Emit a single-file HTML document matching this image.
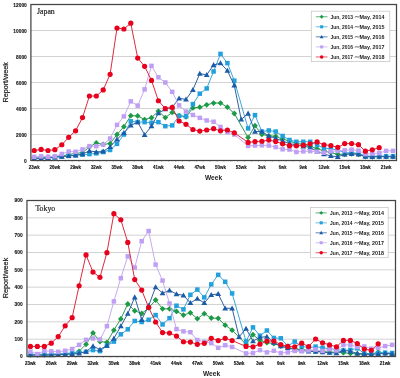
<!DOCTYPE html>
<html><head><meta charset="utf-8"><style>
html,body{margin:0;padding:0;background:#fff;}
body{width:400px;height:378px;overflow:hidden;}
svg{display:block;filter:blur(0.3px);}
text{font-family:"Liberation Sans",sans-serif;fill:#222;}
.yl{font-size:5.5px;text-anchor:end;font-weight:bold;fill:#111;stroke:#111;stroke-width:0.12px;}
.xl{font-size:5px;text-anchor:middle;font-weight:bold;fill:#111;stroke:#111;stroke-width:0.12px;}
.wt{font-size:6.6px;text-anchor:middle;font-weight:bold;}
.rt{font-size:6.5px;text-anchor:middle;fill:#1a1a1a;stroke:#1a1a1a;stroke-width:0.2px;}
.tt{font-family:"Liberation Serif",serif;font-size:7.8px;fill:#222;stroke:#222;stroke-width:0.18px;}
.lg{font-size:5.6px;fill:#1a1a1a;font-weight:bold;}
.td{font-size:7.2px;}
</style></head><body>
<svg width="400" height="378" viewBox="0 0 400 378">
<rect width="400" height="378" fill="#fff"/>
<line x1="30.9" x2="396.5" y1="134.50" y2="134.50" stroke="#cdcdcd" stroke-width="0.9"/>
<line x1="30.9" x2="396.5" y1="108.50" y2="108.50" stroke="#cdcdcd" stroke-width="0.9"/>
<line x1="30.9" x2="396.5" y1="82.50" y2="82.50" stroke="#cdcdcd" stroke-width="0.9"/>
<line x1="30.9" x2="396.5" y1="56.50" y2="56.50" stroke="#cdcdcd" stroke-width="0.9"/>
<line x1="30.9" x2="396.5" y1="30.50" y2="30.50" stroke="#cdcdcd" stroke-width="0.9"/>
<text x="26.8" y="162.70" class="yl" textLength="2.70" lengthAdjust="spacingAndGlyphs">0</text>
<text x="26.8" y="136.70" class="yl" textLength="10.80" lengthAdjust="spacingAndGlyphs">2000</text>
<text x="26.8" y="110.70" class="yl" textLength="10.80" lengthAdjust="spacingAndGlyphs">4000</text>
<text x="26.8" y="84.70" class="yl" textLength="10.80" lengthAdjust="spacingAndGlyphs">6000</text>
<text x="26.8" y="58.70" class="yl" textLength="10.80" lengthAdjust="spacingAndGlyphs">8000</text>
<text x="26.8" y="32.70" class="yl" textLength="13.50" lengthAdjust="spacingAndGlyphs">10000</text>
<text x="26.8" y="6.70" class="yl" textLength="13.50" lengthAdjust="spacingAndGlyphs">12000</text>
<text x="34.20" y="169.00" class="xl" textLength="10.8" lengthAdjust="spacingAndGlyphs">23wk</text>
<text x="54.90" y="169.00" class="xl" textLength="10.8" lengthAdjust="spacingAndGlyphs">26wk</text>
<text x="75.60" y="169.00" class="xl" textLength="10.8" lengthAdjust="spacingAndGlyphs">29wk</text>
<text x="96.30" y="169.00" class="xl" textLength="10.8" lengthAdjust="spacingAndGlyphs">32wk</text>
<text x="117.00" y="169.00" class="xl" textLength="10.8" lengthAdjust="spacingAndGlyphs">35wk</text>
<text x="137.70" y="169.00" class="xl" textLength="10.8" lengthAdjust="spacingAndGlyphs">38wk</text>
<text x="158.40" y="169.00" class="xl" textLength="10.8" lengthAdjust="spacingAndGlyphs">41wk</text>
<text x="179.10" y="169.00" class="xl" textLength="10.8" lengthAdjust="spacingAndGlyphs">44wk</text>
<text x="199.80" y="169.00" class="xl" textLength="10.8" lengthAdjust="spacingAndGlyphs">47wk</text>
<text x="220.50" y="169.00" class="xl" textLength="10.8" lengthAdjust="spacingAndGlyphs">50wk</text>
<text x="241.20" y="169.00" class="xl" textLength="10.8" lengthAdjust="spacingAndGlyphs">53wk</text>
<text x="261.90" y="169.00" class="xl" textLength="7.6" lengthAdjust="spacingAndGlyphs">3wk</text>
<text x="282.60" y="169.00" class="xl" textLength="7.6" lengthAdjust="spacingAndGlyphs">6wk</text>
<text x="303.30" y="169.00" class="xl" textLength="7.6" lengthAdjust="spacingAndGlyphs">9wk</text>
<text x="324.00" y="169.00" class="xl" textLength="10.8" lengthAdjust="spacingAndGlyphs">12wk</text>
<text x="344.70" y="169.00" class="xl" textLength="10.8" lengthAdjust="spacingAndGlyphs">15wk</text>
<text x="365.40" y="169.00" class="xl" textLength="10.8" lengthAdjust="spacingAndGlyphs">18wk</text>
<text x="386.10" y="169.00" class="xl" textLength="10.8" lengthAdjust="spacingAndGlyphs">21wk</text>
<text x="213.5" y="180.0" class="wt">Week</text>
<text transform="translate(8.0 82.3) rotate(-90)" class="rt" textLength="40.5" lengthAdjust="spacingAndGlyphs">Report/week</text>
<text x="37" y="13.8" class="tt">Japan</text>
<path d="M34.20 157.90L41.10 157.90L48.00 157.25L54.90 156.60L61.80 155.95L68.70 154.65L75.60 153.35L82.50 152.70L89.40 146.85L96.30 143.01L103.20 144.38L110.10 143.60L117.00 134.50L123.90 126.70L130.80 115.65L137.70 115.91L144.60 119.55L151.50 117.73L158.40 111.10L165.30 117.60L172.20 112.40L179.10 115.65L186.00 116.95L192.90 107.91L199.80 107.20L206.70 104.86L213.60 103.04L220.50 103.04L227.40 107.20L234.30 113.50L248.10 137.62L255.00 125.72L261.90 134.44L268.80 135.80L275.70 136.32L282.60 139.18L289.50 141.00L296.40 143.60L303.30 144.25L310.20 146.20L317.10 148.80L324.00 150.75L330.90 152.70L337.80 154.26L344.70 154.39L351.60 153.74L358.50 154.26L365.40 156.60L372.30 156.86L379.20 156.60L386.10 156.60L393.00 156.60" fill="none" stroke="#2e9a52" stroke-width="1.0" stroke-linejoin="round"/>
<path d="M34.20 155.00L37.10 157.90L34.20 160.80L31.30 157.90Z" fill="#1c9a46"/>
<path d="M41.10 155.00L44.00 157.90L41.10 160.80L38.20 157.90Z" fill="#1c9a46"/>
<path d="M48.00 154.35L50.90 157.25L48.00 160.15L45.10 157.25Z" fill="#1c9a46"/>
<path d="M54.90 153.70L57.80 156.60L54.90 159.50L52.00 156.60Z" fill="#1c9a46"/>
<path d="M61.80 153.05L64.70 155.95L61.80 158.85L58.90 155.95Z" fill="#1c9a46"/>
<path d="M68.70 151.75L71.60 154.65L68.70 157.55L65.80 154.65Z" fill="#1c9a46"/>
<path d="M75.60 150.45L78.50 153.35L75.60 156.25L72.70 153.35Z" fill="#1c9a46"/>
<path d="M82.50 149.80L85.40 152.70L82.50 155.60L79.60 152.70Z" fill="#1c9a46"/>
<path d="M89.40 143.95L92.30 146.85L89.40 149.75L86.50 146.85Z" fill="#1c9a46"/>
<path d="M96.30 140.11L99.20 143.01L96.30 145.91L93.40 143.01Z" fill="#1c9a46"/>
<path d="M103.20 141.48L106.10 144.38L103.20 147.28L100.30 144.38Z" fill="#1c9a46"/>
<path d="M110.10 140.70L113.00 143.60L110.10 146.50L107.20 143.60Z" fill="#1c9a46"/>
<path d="M117.00 131.60L119.90 134.50L117.00 137.40L114.10 134.50Z" fill="#1c9a46"/>
<path d="M123.90 123.80L126.80 126.70L123.90 129.60L121.00 126.70Z" fill="#1c9a46"/>
<path d="M130.80 112.75L133.70 115.65L130.80 118.55L127.90 115.65Z" fill="#1c9a46"/>
<path d="M137.70 113.01L140.60 115.91L137.70 118.81L134.80 115.91Z" fill="#1c9a46"/>
<path d="M144.60 116.65L147.50 119.55L144.60 122.45L141.70 119.55Z" fill="#1c9a46"/>
<path d="M151.50 114.83L154.40 117.73L151.50 120.63L148.60 117.73Z" fill="#1c9a46"/>
<path d="M158.40 108.20L161.30 111.10L158.40 114.00L155.50 111.10Z" fill="#1c9a46"/>
<path d="M165.30 114.70L168.20 117.60L165.30 120.50L162.40 117.60Z" fill="#1c9a46"/>
<path d="M172.20 109.50L175.10 112.40L172.20 115.30L169.30 112.40Z" fill="#1c9a46"/>
<path d="M179.10 112.75L182.00 115.65L179.10 118.55L176.20 115.65Z" fill="#1c9a46"/>
<path d="M186.00 114.05L188.90 116.95L186.00 119.85L183.10 116.95Z" fill="#1c9a46"/>
<path d="M192.90 105.01L195.80 107.91L192.90 110.81L190.00 107.91Z" fill="#1c9a46"/>
<path d="M199.80 104.30L202.70 107.20L199.80 110.10L196.90 107.20Z" fill="#1c9a46"/>
<path d="M206.70 101.96L209.60 104.86L206.70 107.76L203.80 104.86Z" fill="#1c9a46"/>
<path d="M213.60 100.14L216.50 103.04L213.60 105.94L210.70 103.04Z" fill="#1c9a46"/>
<path d="M220.50 100.14L223.40 103.04L220.50 105.94L217.60 103.04Z" fill="#1c9a46"/>
<path d="M227.40 104.30L230.30 107.20L227.40 110.10L224.50 107.20Z" fill="#1c9a46"/>
<path d="M234.30 110.60L237.20 113.50L234.30 116.41L231.40 113.50Z" fill="#1c9a46"/>
<path d="M248.10 134.72L251.00 137.62L248.10 140.52L245.20 137.62Z" fill="#1c9a46"/>
<path d="M255.00 122.82L257.90 125.72L255.00 128.62L252.10 125.72Z" fill="#1c9a46"/>
<path d="M261.90 131.53L264.80 134.44L261.90 137.34L259.00 134.44Z" fill="#1c9a46"/>
<path d="M268.80 132.90L271.70 135.80L268.80 138.70L265.90 135.80Z" fill="#1c9a46"/>
<path d="M275.70 133.42L278.60 136.32L275.70 139.22L272.80 136.32Z" fill="#1c9a46"/>
<path d="M282.60 136.28L285.50 139.18L282.60 142.08L279.70 139.18Z" fill="#1c9a46"/>
<path d="M289.50 138.10L292.40 141.00L289.50 143.90L286.60 141.00Z" fill="#1c9a46"/>
<path d="M296.40 140.70L299.30 143.60L296.40 146.50L293.50 143.60Z" fill="#1c9a46"/>
<path d="M303.30 141.35L306.20 144.25L303.30 147.15L300.40 144.25Z" fill="#1c9a46"/>
<path d="M310.20 143.30L313.10 146.20L310.20 149.10L307.30 146.20Z" fill="#1c9a46"/>
<path d="M317.10 145.90L320.00 148.80L317.10 151.70L314.20 148.80Z" fill="#1c9a46"/>
<path d="M324.00 147.85L326.90 150.75L324.00 153.65L321.10 150.75Z" fill="#1c9a46"/>
<path d="M330.90 149.80L333.80 152.70L330.90 155.60L328.00 152.70Z" fill="#1c9a46"/>
<path d="M337.80 151.36L340.70 154.26L337.80 157.16L334.90 154.26Z" fill="#1c9a46"/>
<path d="M344.70 151.49L347.60 154.39L344.70 157.29L341.80 154.39Z" fill="#1c9a46"/>
<path d="M351.60 150.84L354.50 153.74L351.60 156.64L348.70 153.74Z" fill="#1c9a46"/>
<path d="M358.50 151.36L361.40 154.26L358.50 157.16L355.60 154.26Z" fill="#1c9a46"/>
<path d="M365.40 153.70L368.30 156.60L365.40 159.50L362.50 156.60Z" fill="#1c9a46"/>
<path d="M372.30 153.96L375.20 156.86L372.30 159.76L369.40 156.86Z" fill="#1c9a46"/>
<path d="M379.20 153.70L382.10 156.60L379.20 159.50L376.30 156.60Z" fill="#1c9a46"/>
<path d="M386.10 153.70L389.00 156.60L386.10 159.50L383.20 156.60Z" fill="#1c9a46"/>
<path d="M393.00 153.70L395.90 156.60L393.00 159.50L390.10 156.60Z" fill="#1c9a46"/>
<path d="M34.20 158.55L41.10 157.90L48.00 157.90L54.90 157.25L61.80 156.60L68.70 155.95L75.60 155.30L82.50 154.65L89.40 154.13L96.30 153.35L103.20 152.05L110.10 149.97L117.00 143.86L123.90 134.50L130.80 121.31L137.70 122.02L144.60 122.15L151.50 122.80L158.40 122.15L165.30 126.18L172.20 125.40L179.10 115.91L186.00 116.30L192.90 104.08L199.80 93.68L206.70 88.48L213.60 71.45L220.50 53.90L227.40 63.13L234.30 80.68L248.10 128.39L255.00 115.13L261.90 131.57L268.80 130.47L275.70 131.57L282.60 136.00L289.50 139.96L296.40 141.78L303.30 141.78L310.20 141.78L317.10 144.90L324.00 148.22L330.90 148.80L337.80 150.10L344.70 152.70L351.60 152.70L358.50 153.35L365.40 155.95L372.30 156.21L379.20 155.95L386.10 156.21L393.00 156.21" fill="none" stroke="#3ea6d8" stroke-width="1.0" stroke-linejoin="round"/>
<rect x="31.95" y="156.30" width="4.50" height="4.50" fill="#22a0dc"/>
<rect x="38.85" y="155.65" width="4.50" height="4.50" fill="#22a0dc"/>
<rect x="45.75" y="155.65" width="4.50" height="4.50" fill="#22a0dc"/>
<rect x="52.65" y="155.00" width="4.50" height="4.50" fill="#22a0dc"/>
<rect x="59.55" y="154.35" width="4.50" height="4.50" fill="#22a0dc"/>
<rect x="66.45" y="153.70" width="4.50" height="4.50" fill="#22a0dc"/>
<rect x="73.35" y="153.05" width="4.50" height="4.50" fill="#22a0dc"/>
<rect x="80.25" y="152.40" width="4.50" height="4.50" fill="#22a0dc"/>
<rect x="87.15" y="151.88" width="4.50" height="4.50" fill="#22a0dc"/>
<rect x="94.05" y="151.10" width="4.50" height="4.50" fill="#22a0dc"/>
<rect x="100.95" y="149.80" width="4.50" height="4.50" fill="#22a0dc"/>
<rect x="107.85" y="147.72" width="4.50" height="4.50" fill="#22a0dc"/>
<rect x="114.75" y="141.61" width="4.50" height="4.50" fill="#22a0dc"/>
<rect x="121.65" y="132.25" width="4.50" height="4.50" fill="#22a0dc"/>
<rect x="128.55" y="119.06" width="4.50" height="4.50" fill="#22a0dc"/>
<rect x="135.45" y="119.77" width="4.50" height="4.50" fill="#22a0dc"/>
<rect x="142.35" y="119.90" width="4.50" height="4.50" fill="#22a0dc"/>
<rect x="149.25" y="120.55" width="4.50" height="4.50" fill="#22a0dc"/>
<rect x="156.15" y="119.90" width="4.50" height="4.50" fill="#22a0dc"/>
<rect x="163.05" y="123.93" width="4.50" height="4.50" fill="#22a0dc"/>
<rect x="169.95" y="123.15" width="4.50" height="4.50" fill="#22a0dc"/>
<rect x="176.85" y="113.66" width="4.50" height="4.50" fill="#22a0dc"/>
<rect x="183.75" y="114.05" width="4.50" height="4.50" fill="#22a0dc"/>
<rect x="190.65" y="101.83" width="4.50" height="4.50" fill="#22a0dc"/>
<rect x="197.55" y="91.43" width="4.50" height="4.50" fill="#22a0dc"/>
<rect x="204.45" y="86.23" width="4.50" height="4.50" fill="#22a0dc"/>
<rect x="211.35" y="69.20" width="4.50" height="4.50" fill="#22a0dc"/>
<rect x="218.25" y="51.65" width="4.50" height="4.50" fill="#22a0dc"/>
<rect x="225.15" y="60.88" width="4.50" height="4.50" fill="#22a0dc"/>
<rect x="232.05" y="78.43" width="4.50" height="4.50" fill="#22a0dc"/>
<rect x="245.85" y="126.14" width="4.50" height="4.50" fill="#22a0dc"/>
<rect x="252.75" y="112.88" width="4.50" height="4.50" fill="#22a0dc"/>
<rect x="259.65" y="129.32" width="4.50" height="4.50" fill="#22a0dc"/>
<rect x="266.55" y="128.22" width="4.50" height="4.50" fill="#22a0dc"/>
<rect x="273.45" y="129.32" width="4.50" height="4.50" fill="#22a0dc"/>
<rect x="280.35" y="133.75" width="4.50" height="4.50" fill="#22a0dc"/>
<rect x="287.25" y="137.71" width="4.50" height="4.50" fill="#22a0dc"/>
<rect x="294.15" y="139.53" width="4.50" height="4.50" fill="#22a0dc"/>
<rect x="301.05" y="139.53" width="4.50" height="4.50" fill="#22a0dc"/>
<rect x="307.95" y="139.53" width="4.50" height="4.50" fill="#22a0dc"/>
<rect x="314.85" y="142.65" width="4.50" height="4.50" fill="#22a0dc"/>
<rect x="321.75" y="145.97" width="4.50" height="4.50" fill="#22a0dc"/>
<rect x="328.65" y="146.55" width="4.50" height="4.50" fill="#22a0dc"/>
<rect x="335.55" y="147.85" width="4.50" height="4.50" fill="#22a0dc"/>
<rect x="342.45" y="150.45" width="4.50" height="4.50" fill="#22a0dc"/>
<rect x="349.35" y="150.45" width="4.50" height="4.50" fill="#22a0dc"/>
<rect x="356.25" y="151.10" width="4.50" height="4.50" fill="#22a0dc"/>
<rect x="363.15" y="153.70" width="4.50" height="4.50" fill="#22a0dc"/>
<rect x="370.05" y="153.96" width="4.50" height="4.50" fill="#22a0dc"/>
<rect x="376.95" y="153.70" width="4.50" height="4.50" fill="#22a0dc"/>
<rect x="383.85" y="153.96" width="4.50" height="4.50" fill="#22a0dc"/>
<rect x="390.75" y="153.96" width="4.50" height="4.50" fill="#22a0dc"/>
<path d="M34.20 158.55L41.10 158.55L48.00 157.90L54.90 157.25L61.80 156.60L68.70 155.95L75.60 155.30L82.50 154.00L89.40 150.81L96.30 152.05L103.20 151.40L110.10 146.85L117.00 139.31L123.90 132.81L130.80 125.40L137.70 122.09L144.60 134.82L151.50 126.18L158.40 113.18L165.30 109.15L172.20 107.20L179.10 98.36L186.00 99.40L192.90 89.78L199.80 73.66L206.70 74.83L213.60 65.02L220.50 63.13L227.40 70.61L234.30 85.42L241.20 119.42L248.10 113.50L255.00 131.57L261.90 131.57L268.80 136.00L275.70 138.40L282.60 141.00L289.50 143.60L296.40 144.90L303.30 146.20L310.20 147.50L317.10 151.40L324.00 154.00L330.90 155.95L337.80 156.73L344.70 154.26L351.60 153.74L358.50 154.26L365.40 156.60L372.30 156.86L379.20 156.60L386.10 156.60L393.00 156.60" fill="none" stroke="#33609c" stroke-width="1.0" stroke-linejoin="round"/>
<path d="M34.20 155.65L37.10 160.73L31.30 160.73Z" fill="#1b5ca8"/>
<path d="M41.10 155.65L44.00 160.73L38.20 160.73Z" fill="#1b5ca8"/>
<path d="M48.00 155.00L50.90 160.08L45.10 160.08Z" fill="#1b5ca8"/>
<path d="M54.90 154.35L57.80 159.43L52.00 159.43Z" fill="#1b5ca8"/>
<path d="M61.80 153.70L64.70 158.78L58.90 158.78Z" fill="#1b5ca8"/>
<path d="M68.70 153.05L71.60 158.12L65.80 158.12Z" fill="#1b5ca8"/>
<path d="M75.60 152.40L78.50 157.48L72.70 157.48Z" fill="#1b5ca8"/>
<path d="M82.50 151.10L85.40 156.18L79.60 156.18Z" fill="#1b5ca8"/>
<path d="M89.40 147.91L92.30 152.99L86.50 152.99Z" fill="#1b5ca8"/>
<path d="M96.30 149.15L99.20 154.23L93.40 154.23Z" fill="#1b5ca8"/>
<path d="M103.20 148.50L106.10 153.58L100.30 153.58Z" fill="#1b5ca8"/>
<path d="M110.10 143.95L113.00 149.03L107.20 149.03Z" fill="#1b5ca8"/>
<path d="M117.00 136.41L119.90 141.49L114.10 141.49Z" fill="#1b5ca8"/>
<path d="M123.90 129.91L126.80 134.99L121.00 134.99Z" fill="#1b5ca8"/>
<path d="M130.80 122.50L133.70 127.58L127.90 127.58Z" fill="#1b5ca8"/>
<path d="M137.70 119.19L140.60 124.26L134.80 124.26Z" fill="#1b5ca8"/>
<path d="M144.60 131.92L147.50 137.00L141.70 137.00Z" fill="#1b5ca8"/>
<path d="M151.50 123.28L154.40 128.36L148.60 128.36Z" fill="#1b5ca8"/>
<path d="M158.40 110.28L161.30 115.36L155.50 115.36Z" fill="#1b5ca8"/>
<path d="M165.30 106.25L168.20 111.33L162.40 111.33Z" fill="#1b5ca8"/>
<path d="M172.20 104.30L175.10 109.38L169.30 109.38Z" fill="#1b5ca8"/>
<path d="M179.10 95.46L182.00 100.53L176.20 100.53Z" fill="#1b5ca8"/>
<path d="M186.00 96.50L188.90 101.58L183.10 101.58Z" fill="#1b5ca8"/>
<path d="M192.90 86.88L195.80 91.95L190.00 91.95Z" fill="#1b5ca8"/>
<path d="M199.80 70.76L202.70 75.83L196.90 75.83Z" fill="#1b5ca8"/>
<path d="M206.70 71.93L209.60 77.00L203.80 77.00Z" fill="#1b5ca8"/>
<path d="M213.60 62.12L216.50 67.19L210.70 67.19Z" fill="#1b5ca8"/>
<path d="M220.50 60.23L223.40 65.30L217.60 65.30Z" fill="#1b5ca8"/>
<path d="M227.40 67.70L230.30 72.78L224.50 72.78Z" fill="#1b5ca8"/>
<path d="M234.30 82.52L237.20 87.60L231.40 87.60Z" fill="#1b5ca8"/>
<path d="M241.20 116.52L244.10 121.59L238.30 121.59Z" fill="#1b5ca8"/>
<path d="M248.10 110.60L251.00 115.68L245.20 115.68Z" fill="#1b5ca8"/>
<path d="M255.00 128.67L257.90 133.75L252.10 133.75Z" fill="#1b5ca8"/>
<path d="M261.90 128.67L264.80 133.75L259.00 133.75Z" fill="#1b5ca8"/>
<path d="M268.80 133.09L271.70 138.17L265.90 138.17Z" fill="#1b5ca8"/>
<path d="M275.70 135.50L278.60 140.58L272.80 140.58Z" fill="#1b5ca8"/>
<path d="M282.60 138.10L285.50 143.18L279.70 143.18Z" fill="#1b5ca8"/>
<path d="M289.50 140.70L292.40 145.78L286.60 145.78Z" fill="#1b5ca8"/>
<path d="M296.40 142.00L299.30 147.08L293.50 147.08Z" fill="#1b5ca8"/>
<path d="M303.30 143.30L306.20 148.38L300.40 148.38Z" fill="#1b5ca8"/>
<path d="M310.20 144.60L313.10 149.68L307.30 149.68Z" fill="#1b5ca8"/>
<path d="M317.10 148.50L320.00 153.58L314.20 153.58Z" fill="#1b5ca8"/>
<path d="M324.00 151.10L326.90 156.18L321.10 156.18Z" fill="#1b5ca8"/>
<path d="M330.90 153.05L333.80 158.12L328.00 158.12Z" fill="#1b5ca8"/>
<path d="M337.80 153.83L340.70 158.91L334.90 158.91Z" fill="#1b5ca8"/>
<path d="M344.70 151.36L347.60 156.44L341.80 156.44Z" fill="#1b5ca8"/>
<path d="M351.60 150.84L354.50 155.92L348.70 155.92Z" fill="#1b5ca8"/>
<path d="M358.50 151.36L361.40 156.44L355.60 156.44Z" fill="#1b5ca8"/>
<path d="M365.40 153.70L368.30 158.78L362.50 158.78Z" fill="#1b5ca8"/>
<path d="M372.30 153.96L375.20 159.04L369.40 159.04Z" fill="#1b5ca8"/>
<path d="M379.20 153.70L382.10 158.78L376.30 158.78Z" fill="#1b5ca8"/>
<path d="M386.10 153.70L389.00 158.78L383.20 158.78Z" fill="#1b5ca8"/>
<path d="M393.00 153.70L395.90 158.78L390.10 158.78Z" fill="#1b5ca8"/>
<path d="M34.20 156.86L41.10 156.34L48.00 156.86L54.90 156.34L61.80 154.00L68.70 151.53L75.60 151.79L82.50 149.45L89.40 146.20L96.30 146.20L103.20 144.64L110.10 138.53L117.00 124.88L123.90 116.43L130.80 101.35L137.70 105.64L144.60 89.39L151.50 65.90L158.40 77.30L165.30 82.50L172.20 91.86L179.10 105.38L186.00 111.62L192.90 115.00L199.80 117.86L206.70 120.46L213.60 121.76L220.50 126.96L227.40 132.03L234.30 134.50L248.10 145.94L255.00 145.55L261.90 145.29L268.80 145.55L275.70 147.11L282.60 149.32L289.50 149.58L296.40 151.99L303.30 151.40L310.20 151.14L317.10 151.66L324.00 152.70L330.90 151.40L337.80 150.88L344.70 150.36L351.60 149.71L358.50 150.62L365.40 154.13L372.30 153.61L379.20 153.09L386.10 150.88L393.00 150.88" fill="none" stroke="#c6aaf2" stroke-width="1.0" stroke-linejoin="round"/>
<rect x="31.95" y="154.61" width="4.50" height="4.50" fill="#bf9ff4"/>
<rect x="38.85" y="154.09" width="4.50" height="4.50" fill="#bf9ff4"/>
<rect x="45.75" y="154.61" width="4.50" height="4.50" fill="#bf9ff4"/>
<rect x="52.65" y="154.09" width="4.50" height="4.50" fill="#bf9ff4"/>
<rect x="59.55" y="151.75" width="4.50" height="4.50" fill="#bf9ff4"/>
<rect x="66.45" y="149.28" width="4.50" height="4.50" fill="#bf9ff4"/>
<rect x="73.35" y="149.54" width="4.50" height="4.50" fill="#bf9ff4"/>
<rect x="80.25" y="147.20" width="4.50" height="4.50" fill="#bf9ff4"/>
<rect x="87.15" y="143.95" width="4.50" height="4.50" fill="#bf9ff4"/>
<rect x="94.05" y="143.95" width="4.50" height="4.50" fill="#bf9ff4"/>
<rect x="100.95" y="142.39" width="4.50" height="4.50" fill="#bf9ff4"/>
<rect x="107.85" y="136.28" width="4.50" height="4.50" fill="#bf9ff4"/>
<rect x="114.75" y="122.63" width="4.50" height="4.50" fill="#bf9ff4"/>
<rect x="121.65" y="114.18" width="4.50" height="4.50" fill="#bf9ff4"/>
<rect x="128.55" y="99.10" width="4.50" height="4.50" fill="#bf9ff4"/>
<rect x="135.45" y="103.39" width="4.50" height="4.50" fill="#bf9ff4"/>
<rect x="142.35" y="87.14" width="4.50" height="4.50" fill="#bf9ff4"/>
<rect x="149.25" y="63.65" width="4.50" height="4.50" fill="#bf9ff4"/>
<rect x="156.15" y="75.05" width="4.50" height="4.50" fill="#bf9ff4"/>
<rect x="163.05" y="80.25" width="4.50" height="4.50" fill="#bf9ff4"/>
<rect x="169.95" y="89.61" width="4.50" height="4.50" fill="#bf9ff4"/>
<rect x="176.85" y="103.13" width="4.50" height="4.50" fill="#bf9ff4"/>
<rect x="183.75" y="109.37" width="4.50" height="4.50" fill="#bf9ff4"/>
<rect x="190.65" y="112.75" width="4.50" height="4.50" fill="#bf9ff4"/>
<rect x="197.55" y="115.61" width="4.50" height="4.50" fill="#bf9ff4"/>
<rect x="204.45" y="118.21" width="4.50" height="4.50" fill="#bf9ff4"/>
<rect x="211.35" y="119.51" width="4.50" height="4.50" fill="#bf9ff4"/>
<rect x="218.25" y="124.71" width="4.50" height="4.50" fill="#bf9ff4"/>
<rect x="225.15" y="129.78" width="4.50" height="4.50" fill="#bf9ff4"/>
<rect x="232.05" y="132.25" width="4.50" height="4.50" fill="#bf9ff4"/>
<rect x="245.85" y="143.69" width="4.50" height="4.50" fill="#bf9ff4"/>
<rect x="252.75" y="143.30" width="4.50" height="4.50" fill="#bf9ff4"/>
<rect x="259.65" y="143.04" width="4.50" height="4.50" fill="#bf9ff4"/>
<rect x="266.55" y="143.30" width="4.50" height="4.50" fill="#bf9ff4"/>
<rect x="273.45" y="144.86" width="4.50" height="4.50" fill="#bf9ff4"/>
<rect x="280.35" y="147.07" width="4.50" height="4.50" fill="#bf9ff4"/>
<rect x="287.25" y="147.33" width="4.50" height="4.50" fill="#bf9ff4"/>
<rect x="294.15" y="149.74" width="4.50" height="4.50" fill="#bf9ff4"/>
<rect x="301.05" y="149.15" width="4.50" height="4.50" fill="#bf9ff4"/>
<rect x="307.95" y="148.89" width="4.50" height="4.50" fill="#bf9ff4"/>
<rect x="314.85" y="149.41" width="4.50" height="4.50" fill="#bf9ff4"/>
<rect x="321.75" y="150.45" width="4.50" height="4.50" fill="#bf9ff4"/>
<rect x="328.65" y="149.15" width="4.50" height="4.50" fill="#bf9ff4"/>
<rect x="335.55" y="148.63" width="4.50" height="4.50" fill="#bf9ff4"/>
<rect x="342.45" y="148.11" width="4.50" height="4.50" fill="#bf9ff4"/>
<rect x="349.35" y="147.46" width="4.50" height="4.50" fill="#bf9ff4"/>
<rect x="356.25" y="148.37" width="4.50" height="4.50" fill="#bf9ff4"/>
<rect x="363.15" y="151.88" width="4.50" height="4.50" fill="#bf9ff4"/>
<rect x="370.05" y="151.36" width="4.50" height="4.50" fill="#bf9ff4"/>
<rect x="376.95" y="150.84" width="4.50" height="4.50" fill="#bf9ff4"/>
<rect x="383.85" y="148.63" width="4.50" height="4.50" fill="#bf9ff4"/>
<rect x="390.75" y="148.63" width="4.50" height="4.50" fill="#bf9ff4"/>
<path d="M34.20 150.49L41.10 149.45L48.00 150.49L54.90 149.71L61.80 144.77L68.70 137.36L75.60 130.80L82.50 117.60L89.40 96.02L96.30 96.02L103.20 89.91L110.10 74.31L117.00 28.03L123.90 29.00L130.80 23.22L137.70 58.06L144.60 66.31L151.50 80.42L158.40 100.77L165.30 108.50L172.20 107.33L179.10 120.98L186.00 124.30L192.90 129.50L199.80 131.12L206.70 130.01L213.60 128.72L220.50 130.80L227.40 130.01L234.30 132.81L248.10 142.43L255.00 141.59L261.90 141.26L268.80 140.03L275.70 141.59L282.60 143.86L289.50 145.68L296.40 145.81L303.30 145.22L310.20 143.73L317.10 141.91L324.00 144.77L330.90 145.55L337.80 147.37L344.70 143.60L351.60 143.60L358.50 144.71L365.40 151.21L372.30 149.78L379.20 147.63" fill="none" stroke="#dc2a42" stroke-width="1.0" stroke-linejoin="round"/>
<circle cx="34.20" cy="150.49" r="2.60" fill="#e8001c"/>
<circle cx="41.10" cy="149.45" r="2.60" fill="#e8001c"/>
<circle cx="48.00" cy="150.49" r="2.60" fill="#e8001c"/>
<circle cx="54.90" cy="149.71" r="2.60" fill="#e8001c"/>
<circle cx="61.80" cy="144.77" r="2.60" fill="#e8001c"/>
<circle cx="68.70" cy="137.36" r="2.60" fill="#e8001c"/>
<circle cx="75.60" cy="130.80" r="2.60" fill="#e8001c"/>
<circle cx="82.50" cy="117.60" r="2.60" fill="#e8001c"/>
<circle cx="89.40" cy="96.02" r="2.60" fill="#e8001c"/>
<circle cx="96.30" cy="96.02" r="2.60" fill="#e8001c"/>
<circle cx="103.20" cy="89.91" r="2.60" fill="#e8001c"/>
<circle cx="110.10" cy="74.31" r="2.60" fill="#e8001c"/>
<circle cx="117.00" cy="28.03" r="2.60" fill="#e8001c"/>
<circle cx="123.90" cy="29.00" r="2.60" fill="#e8001c"/>
<circle cx="130.80" cy="23.22" r="2.60" fill="#e8001c"/>
<circle cx="137.70" cy="58.06" r="2.60" fill="#e8001c"/>
<circle cx="144.60" cy="66.31" r="2.60" fill="#e8001c"/>
<circle cx="151.50" cy="80.42" r="2.60" fill="#e8001c"/>
<circle cx="158.40" cy="100.77" r="2.60" fill="#e8001c"/>
<circle cx="165.30" cy="108.50" r="2.60" fill="#e8001c"/>
<circle cx="172.20" cy="107.33" r="2.60" fill="#e8001c"/>
<circle cx="179.10" cy="120.98" r="2.60" fill="#e8001c"/>
<circle cx="186.00" cy="124.30" r="2.60" fill="#e8001c"/>
<circle cx="192.90" cy="129.50" r="2.60" fill="#e8001c"/>
<circle cx="199.80" cy="131.12" r="2.60" fill="#e8001c"/>
<circle cx="206.70" cy="130.01" r="2.60" fill="#e8001c"/>
<circle cx="213.60" cy="128.72" r="2.60" fill="#e8001c"/>
<circle cx="220.50" cy="130.80" r="2.60" fill="#e8001c"/>
<circle cx="227.40" cy="130.01" r="2.60" fill="#e8001c"/>
<circle cx="234.30" cy="132.81" r="2.60" fill="#e8001c"/>
<circle cx="248.10" cy="142.43" r="2.60" fill="#e8001c"/>
<circle cx="255.00" cy="141.59" r="2.60" fill="#e8001c"/>
<circle cx="261.90" cy="141.26" r="2.60" fill="#e8001c"/>
<circle cx="268.80" cy="140.03" r="2.60" fill="#e8001c"/>
<circle cx="275.70" cy="141.59" r="2.60" fill="#e8001c"/>
<circle cx="282.60" cy="143.86" r="2.60" fill="#e8001c"/>
<circle cx="289.50" cy="145.68" r="2.60" fill="#e8001c"/>
<circle cx="296.40" cy="145.81" r="2.60" fill="#e8001c"/>
<circle cx="303.30" cy="145.22" r="2.60" fill="#e8001c"/>
<circle cx="310.20" cy="143.73" r="2.60" fill="#e8001c"/>
<circle cx="317.10" cy="141.91" r="2.60" fill="#e8001c"/>
<circle cx="324.00" cy="144.77" r="2.60" fill="#e8001c"/>
<circle cx="330.90" cy="145.55" r="2.60" fill="#e8001c"/>
<circle cx="337.80" cy="147.37" r="2.60" fill="#e8001c"/>
<circle cx="344.70" cy="143.60" r="2.60" fill="#e8001c"/>
<circle cx="351.60" cy="143.60" r="2.60" fill="#e8001c"/>
<circle cx="358.50" cy="144.71" r="2.60" fill="#e8001c"/>
<circle cx="365.40" cy="151.21" r="2.60" fill="#e8001c"/>
<circle cx="372.30" cy="149.78" r="2.60" fill="#e8001c"/>
<circle cx="379.20" cy="147.63" r="2.60" fill="#e8001c"/>
<line x1="37.65" x2="37.65" y1="160.50" y2="162.00" stroke="#aaa" stroke-width="0.6"/>
<line x1="44.55" x2="44.55" y1="160.50" y2="162.00" stroke="#aaa" stroke-width="0.6"/>
<line x1="51.45" x2="51.45" y1="160.50" y2="162.00" stroke="#aaa" stroke-width="0.6"/>
<line x1="58.35" x2="58.35" y1="160.50" y2="162.00" stroke="#aaa" stroke-width="0.6"/>
<line x1="65.25" x2="65.25" y1="160.50" y2="162.00" stroke="#aaa" stroke-width="0.6"/>
<line x1="72.15" x2="72.15" y1="160.50" y2="162.00" stroke="#aaa" stroke-width="0.6"/>
<line x1="79.05" x2="79.05" y1="160.50" y2="162.00" stroke="#aaa" stroke-width="0.6"/>
<line x1="85.95" x2="85.95" y1="160.50" y2="162.00" stroke="#aaa" stroke-width="0.6"/>
<line x1="92.85" x2="92.85" y1="160.50" y2="162.00" stroke="#aaa" stroke-width="0.6"/>
<line x1="99.75" x2="99.75" y1="160.50" y2="162.00" stroke="#aaa" stroke-width="0.6"/>
<line x1="106.65" x2="106.65" y1="160.50" y2="162.00" stroke="#aaa" stroke-width="0.6"/>
<line x1="113.55" x2="113.55" y1="160.50" y2="162.00" stroke="#aaa" stroke-width="0.6"/>
<line x1="120.45" x2="120.45" y1="160.50" y2="162.00" stroke="#aaa" stroke-width="0.6"/>
<line x1="127.35" x2="127.35" y1="160.50" y2="162.00" stroke="#aaa" stroke-width="0.6"/>
<line x1="134.25" x2="134.25" y1="160.50" y2="162.00" stroke="#aaa" stroke-width="0.6"/>
<line x1="141.15" x2="141.15" y1="160.50" y2="162.00" stroke="#aaa" stroke-width="0.6"/>
<line x1="148.05" x2="148.05" y1="160.50" y2="162.00" stroke="#aaa" stroke-width="0.6"/>
<line x1="154.95" x2="154.95" y1="160.50" y2="162.00" stroke="#aaa" stroke-width="0.6"/>
<line x1="161.85" x2="161.85" y1="160.50" y2="162.00" stroke="#aaa" stroke-width="0.6"/>
<line x1="168.75" x2="168.75" y1="160.50" y2="162.00" stroke="#aaa" stroke-width="0.6"/>
<line x1="175.65" x2="175.65" y1="160.50" y2="162.00" stroke="#aaa" stroke-width="0.6"/>
<line x1="182.55" x2="182.55" y1="160.50" y2="162.00" stroke="#aaa" stroke-width="0.6"/>
<line x1="189.45" x2="189.45" y1="160.50" y2="162.00" stroke="#aaa" stroke-width="0.6"/>
<line x1="196.35" x2="196.35" y1="160.50" y2="162.00" stroke="#aaa" stroke-width="0.6"/>
<line x1="203.25" x2="203.25" y1="160.50" y2="162.00" stroke="#aaa" stroke-width="0.6"/>
<line x1="210.15" x2="210.15" y1="160.50" y2="162.00" stroke="#aaa" stroke-width="0.6"/>
<line x1="217.05" x2="217.05" y1="160.50" y2="162.00" stroke="#aaa" stroke-width="0.6"/>
<line x1="223.95" x2="223.95" y1="160.50" y2="162.00" stroke="#aaa" stroke-width="0.6"/>
<line x1="230.85" x2="230.85" y1="160.50" y2="162.00" stroke="#aaa" stroke-width="0.6"/>
<line x1="237.75" x2="237.75" y1="160.50" y2="162.00" stroke="#aaa" stroke-width="0.6"/>
<line x1="244.65" x2="244.65" y1="160.50" y2="162.00" stroke="#aaa" stroke-width="0.6"/>
<line x1="251.55" x2="251.55" y1="160.50" y2="162.00" stroke="#aaa" stroke-width="0.6"/>
<line x1="258.45" x2="258.45" y1="160.50" y2="162.00" stroke="#aaa" stroke-width="0.6"/>
<line x1="265.35" x2="265.35" y1="160.50" y2="162.00" stroke="#aaa" stroke-width="0.6"/>
<line x1="272.25" x2="272.25" y1="160.50" y2="162.00" stroke="#aaa" stroke-width="0.6"/>
<line x1="279.15" x2="279.15" y1="160.50" y2="162.00" stroke="#aaa" stroke-width="0.6"/>
<line x1="286.05" x2="286.05" y1="160.50" y2="162.00" stroke="#aaa" stroke-width="0.6"/>
<line x1="292.95" x2="292.95" y1="160.50" y2="162.00" stroke="#aaa" stroke-width="0.6"/>
<line x1="299.85" x2="299.85" y1="160.50" y2="162.00" stroke="#aaa" stroke-width="0.6"/>
<line x1="306.75" x2="306.75" y1="160.50" y2="162.00" stroke="#aaa" stroke-width="0.6"/>
<line x1="313.65" x2="313.65" y1="160.50" y2="162.00" stroke="#aaa" stroke-width="0.6"/>
<line x1="320.55" x2="320.55" y1="160.50" y2="162.00" stroke="#aaa" stroke-width="0.6"/>
<line x1="327.45" x2="327.45" y1="160.50" y2="162.00" stroke="#aaa" stroke-width="0.6"/>
<line x1="334.35" x2="334.35" y1="160.50" y2="162.00" stroke="#aaa" stroke-width="0.6"/>
<line x1="341.25" x2="341.25" y1="160.50" y2="162.00" stroke="#aaa" stroke-width="0.6"/>
<line x1="348.15" x2="348.15" y1="160.50" y2="162.00" stroke="#aaa" stroke-width="0.6"/>
<line x1="355.05" x2="355.05" y1="160.50" y2="162.00" stroke="#aaa" stroke-width="0.6"/>
<line x1="361.95" x2="361.95" y1="160.50" y2="162.00" stroke="#aaa" stroke-width="0.6"/>
<line x1="368.85" x2="368.85" y1="160.50" y2="162.00" stroke="#aaa" stroke-width="0.6"/>
<line x1="375.75" x2="375.75" y1="160.50" y2="162.00" stroke="#aaa" stroke-width="0.6"/>
<line x1="382.65" x2="382.65" y1="160.50" y2="162.00" stroke="#aaa" stroke-width="0.6"/>
<line x1="389.55" x2="389.55" y1="160.50" y2="162.00" stroke="#aaa" stroke-width="0.6"/>
<rect x="30.9" y="4.5" width="365.6" height="156.0" fill="none" stroke="#444" stroke-width="1.25"/>
<rect x="311.3" y="11.2" width="78.5" height="50.400000000000006" fill="#fff" stroke="#c8c8c8" stroke-width="0.8"/>
<line x1="315.8" x2="327.5" y1="16.75" y2="16.75" stroke="#2e9a52" stroke-width="0.75"/>
<path d="M321.65 14.78L323.62 16.75L321.65 18.72L319.68 16.75Z" fill="#1c9a46"/>
<text x="330.5" y="18.60" class="lg" textLength="22.4" lengthAdjust="spacingAndGlyphs">Jun, 2013</text>
<path d="M354.70 17.25C356.20 15.15 358.00 18.35 359.50 16.25" fill="none" stroke="#1a1a1a" stroke-width="0.65"/>
<text x="359.50" y="18.60" class="lg" textLength="25.0" lengthAdjust="spacingAndGlyphs">May, 2014</text>
<line x1="315.8" x2="327.5" y1="26.80" y2="26.80" stroke="#3ea6d8" stroke-width="0.75"/>
<rect x="320.12" y="25.27" width="3.06" height="3.06" fill="#22a0dc"/>
<text x="330.5" y="28.65" class="lg" textLength="22.4" lengthAdjust="spacingAndGlyphs">Jun, 2014</text>
<path d="M354.70 27.30C356.20 25.20 358.00 28.40 359.50 26.30" fill="none" stroke="#1a1a1a" stroke-width="0.65"/>
<text x="359.50" y="28.65" class="lg" textLength="25.0" lengthAdjust="spacingAndGlyphs">May, 2015</text>
<line x1="315.8" x2="327.5" y1="36.85" y2="36.85" stroke="#33609c" stroke-width="0.75"/>
<path d="M321.65 34.88L323.62 38.33L319.68 38.33Z" fill="#1b5ca8"/>
<text x="330.5" y="38.70" class="lg" textLength="22.4" lengthAdjust="spacingAndGlyphs">Jun, 2015</text>
<path d="M354.70 37.35C356.20 35.25 358.00 38.45 359.50 36.35" fill="none" stroke="#1a1a1a" stroke-width="0.65"/>
<text x="359.50" y="38.70" class="lg" textLength="25.0" lengthAdjust="spacingAndGlyphs">May, 2016</text>
<line x1="315.8" x2="327.5" y1="46.90" y2="46.90" stroke="#c6aaf2" stroke-width="0.75"/>
<rect x="320.12" y="45.37" width="3.06" height="3.06" fill="#bf9ff4"/>
<text x="330.5" y="48.75" class="lg" textLength="22.4" lengthAdjust="spacingAndGlyphs">Jun, 2016</text>
<path d="M354.70 47.40C356.20 45.30 358.00 48.50 359.50 46.40" fill="none" stroke="#1a1a1a" stroke-width="0.65"/>
<text x="359.50" y="48.75" class="lg" textLength="25.0" lengthAdjust="spacingAndGlyphs">May, 2017</text>
<line x1="315.8" x2="327.5" y1="56.95" y2="56.95" stroke="#dc2a42" stroke-width="0.75"/>
<circle cx="321.65" cy="56.95" r="1.77" fill="#e8001c"/>
<text x="330.5" y="58.80" class="lg" textLength="22.4" lengthAdjust="spacingAndGlyphs">Jun, 2017</text>
<path d="M354.70 57.45C356.20 55.35 358.00 58.55 359.50 56.45" fill="none" stroke="#1a1a1a" stroke-width="0.65"/>
<text x="359.50" y="58.80" class="lg" textLength="25.0" lengthAdjust="spacingAndGlyphs">May, 2018</text>
<line x1="26.95" x2="395.5" y1="339.17" y2="339.17" stroke="#cdcdcd" stroke-width="0.9"/>
<line x1="26.95" x2="395.5" y1="321.83" y2="321.83" stroke="#cdcdcd" stroke-width="0.9"/>
<line x1="26.95" x2="395.5" y1="304.50" y2="304.50" stroke="#cdcdcd" stroke-width="0.9"/>
<line x1="26.95" x2="395.5" y1="287.17" y2="287.17" stroke="#cdcdcd" stroke-width="0.9"/>
<line x1="26.95" x2="395.5" y1="269.83" y2="269.83" stroke="#cdcdcd" stroke-width="0.9"/>
<line x1="26.95" x2="395.5" y1="252.50" y2="252.50" stroke="#cdcdcd" stroke-width="0.9"/>
<line x1="26.95" x2="395.5" y1="235.17" y2="235.17" stroke="#cdcdcd" stroke-width="0.9"/>
<line x1="26.95" x2="395.5" y1="217.83" y2="217.83" stroke="#cdcdcd" stroke-width="0.9"/>
<text x="22.7" y="358.40" class="yl" textLength="2.70" lengthAdjust="spacingAndGlyphs">0</text>
<text x="22.7" y="341.07" class="yl" textLength="8.10" lengthAdjust="spacingAndGlyphs">100</text>
<text x="22.7" y="323.73" class="yl" textLength="8.10" lengthAdjust="spacingAndGlyphs">200</text>
<text x="22.7" y="306.40" class="yl" textLength="8.10" lengthAdjust="spacingAndGlyphs">300</text>
<text x="22.7" y="289.07" class="yl" textLength="8.10" lengthAdjust="spacingAndGlyphs">400</text>
<text x="22.7" y="271.73" class="yl" textLength="8.10" lengthAdjust="spacingAndGlyphs">500</text>
<text x="22.7" y="254.40" class="yl" textLength="8.10" lengthAdjust="spacingAndGlyphs">600</text>
<text x="22.7" y="237.07" class="yl" textLength="8.10" lengthAdjust="spacingAndGlyphs">700</text>
<text x="22.7" y="219.73" class="yl" textLength="8.10" lengthAdjust="spacingAndGlyphs">800</text>
<text x="22.7" y="202.40" class="yl" textLength="8.10" lengthAdjust="spacingAndGlyphs">900</text>
<text x="30.40" y="365.00" class="xl" textLength="10.8" lengthAdjust="spacingAndGlyphs">23wk</text>
<text x="51.27" y="365.00" class="xl" textLength="10.8" lengthAdjust="spacingAndGlyphs">26wk</text>
<text x="72.14" y="365.00" class="xl" textLength="10.8" lengthAdjust="spacingAndGlyphs">29wk</text>
<text x="93.00" y="365.00" class="xl" textLength="10.8" lengthAdjust="spacingAndGlyphs">32wk</text>
<text x="113.87" y="365.00" class="xl" textLength="10.8" lengthAdjust="spacingAndGlyphs">35wk</text>
<text x="134.74" y="365.00" class="xl" textLength="10.8" lengthAdjust="spacingAndGlyphs">38wk</text>
<text x="155.61" y="365.00" class="xl" textLength="10.8" lengthAdjust="spacingAndGlyphs">41wk</text>
<text x="176.48" y="365.00" class="xl" textLength="10.8" lengthAdjust="spacingAndGlyphs">44wk</text>
<text x="197.34" y="365.00" class="xl" textLength="10.8" lengthAdjust="spacingAndGlyphs">47wk</text>
<text x="218.21" y="365.00" class="xl" textLength="10.8" lengthAdjust="spacingAndGlyphs">50wk</text>
<text x="239.08" y="365.00" class="xl" textLength="10.8" lengthAdjust="spacingAndGlyphs">53wk</text>
<text x="259.95" y="365.00" class="xl" textLength="7.6" lengthAdjust="spacingAndGlyphs">3wk</text>
<text x="280.82" y="365.00" class="xl" textLength="7.6" lengthAdjust="spacingAndGlyphs">6wk</text>
<text x="301.68" y="365.00" class="xl" textLength="7.6" lengthAdjust="spacingAndGlyphs">9wk</text>
<text x="322.55" y="365.00" class="xl" textLength="10.8" lengthAdjust="spacingAndGlyphs">12wk</text>
<text x="343.42" y="365.00" class="xl" textLength="10.8" lengthAdjust="spacingAndGlyphs">15wk</text>
<text x="364.29" y="365.00" class="xl" textLength="10.8" lengthAdjust="spacingAndGlyphs">18wk</text>
<text x="385.16" y="365.00" class="xl" textLength="10.8" lengthAdjust="spacingAndGlyphs">21wk</text>
<text x="211.5" y="376.0" class="wt">Week</text>
<text transform="translate(8.1 278.0) rotate(-90)" class="rt" textLength="40.5" lengthAdjust="spacingAndGlyphs">Report/week</text>
<text x="35.4" y="210.7" class="tt">Tokyo</text>
<path d="M30.40 354.77L37.36 354.77L44.31 354.77L51.27 354.42L58.22 354.42L65.18 353.90L72.14 353.38L79.09 351.30L86.05 344.37L93.00 332.93L99.96 341.59L106.92 342.29L113.87 330.15L120.83 318.89L127.78 303.98L134.74 310.74L141.70 313.51L148.65 307.97L155.61 299.99L162.56 308.83L169.52 308.83L176.48 311.43L183.43 315.07L190.39 312.82L197.34 318.71L204.30 313.69L211.26 318.02L218.21 318.37L225.17 325.13L232.12 330.15L246.04 344.37L252.99 334.66L259.95 340.38L266.90 342.63L273.86 343.50L280.82 346.10L287.77 347.83L294.73 348.70L301.68 349.57L308.64 350.43L315.60 351.30L322.55 351.65L329.51 352.17L336.46 352.17L343.42 352.69L350.38 353.38L357.33 353.90L364.29 354.42L371.24 354.42L378.20 352.17L385.16 353.38L392.11 353.90" fill="none" stroke="#2e9a52" stroke-width="1.0" stroke-linejoin="round"/>
<path d="M30.40 351.87L33.30 354.77L30.40 357.67L27.50 354.77Z" fill="#1c9a46"/>
<path d="M37.36 351.87L40.26 354.77L37.36 357.67L34.46 354.77Z" fill="#1c9a46"/>
<path d="M44.31 351.87L47.21 354.77L44.31 357.67L41.41 354.77Z" fill="#1c9a46"/>
<path d="M51.27 351.52L54.17 354.42L51.27 357.32L48.37 354.42Z" fill="#1c9a46"/>
<path d="M58.22 351.52L61.12 354.42L58.22 357.32L55.32 354.42Z" fill="#1c9a46"/>
<path d="M65.18 351.00L68.08 353.90L65.18 356.80L62.28 353.90Z" fill="#1c9a46"/>
<path d="M72.14 350.48L75.04 353.38L72.14 356.28L69.24 353.38Z" fill="#1c9a46"/>
<path d="M79.09 348.40L81.99 351.30L79.09 354.20L76.19 351.30Z" fill="#1c9a46"/>
<path d="M86.05 341.47L88.95 344.37L86.05 347.27L83.15 344.37Z" fill="#1c9a46"/>
<path d="M93.00 330.03L95.90 332.93L93.00 335.83L90.10 332.93Z" fill="#1c9a46"/>
<path d="M99.96 338.69L102.86 341.59L99.96 344.49L97.06 341.59Z" fill="#1c9a46"/>
<path d="M106.92 339.39L109.82 342.29L106.92 345.19L104.02 342.29Z" fill="#1c9a46"/>
<path d="M113.87 327.25L116.77 330.15L113.87 333.05L110.97 330.15Z" fill="#1c9a46"/>
<path d="M120.83 315.99L123.73 318.89L120.83 321.79L117.93 318.89Z" fill="#1c9a46"/>
<path d="M127.78 301.08L130.68 303.98L127.78 306.88L124.88 303.98Z" fill="#1c9a46"/>
<path d="M134.74 307.84L137.64 310.74L134.74 313.64L131.84 310.74Z" fill="#1c9a46"/>
<path d="M141.70 310.61L144.60 313.51L141.70 316.41L138.80 313.51Z" fill="#1c9a46"/>
<path d="M148.65 305.07L151.55 307.97L148.65 310.87L145.75 307.97Z" fill="#1c9a46"/>
<path d="M155.61 297.09L158.51 299.99L155.61 302.89L152.71 299.99Z" fill="#1c9a46"/>
<path d="M162.56 305.93L165.46 308.83L162.56 311.73L159.66 308.83Z" fill="#1c9a46"/>
<path d="M169.52 305.93L172.42 308.83L169.52 311.73L166.62 308.83Z" fill="#1c9a46"/>
<path d="M176.48 308.53L179.38 311.43L176.48 314.33L173.58 311.43Z" fill="#1c9a46"/>
<path d="M183.43 312.17L186.33 315.07L183.43 317.97L180.53 315.07Z" fill="#1c9a46"/>
<path d="M190.39 309.92L193.29 312.82L190.39 315.72L187.49 312.82Z" fill="#1c9a46"/>
<path d="M197.34 315.81L200.24 318.71L197.34 321.61L194.44 318.71Z" fill="#1c9a46"/>
<path d="M204.30 310.79L207.20 313.69L204.30 316.59L201.40 313.69Z" fill="#1c9a46"/>
<path d="M211.26 315.12L214.16 318.02L211.26 320.92L208.36 318.02Z" fill="#1c9a46"/>
<path d="M218.21 315.47L221.11 318.37L218.21 321.27L215.31 318.37Z" fill="#1c9a46"/>
<path d="M225.17 322.23L228.07 325.13L225.17 328.03L222.27 325.13Z" fill="#1c9a46"/>
<path d="M232.12 327.25L235.02 330.15L232.12 333.05L229.22 330.15Z" fill="#1c9a46"/>
<path d="M246.04 341.47L248.94 344.37L246.04 347.27L243.14 344.37Z" fill="#1c9a46"/>
<path d="M252.99 331.76L255.89 334.66L252.99 337.56L250.09 334.66Z" fill="#1c9a46"/>
<path d="M259.95 337.48L262.85 340.38L259.95 343.28L257.05 340.38Z" fill="#1c9a46"/>
<path d="M266.90 339.73L269.80 342.63L266.90 345.53L264.00 342.63Z" fill="#1c9a46"/>
<path d="M273.86 340.60L276.76 343.50L273.86 346.40L270.96 343.50Z" fill="#1c9a46"/>
<path d="M280.82 343.20L283.72 346.10L280.82 349.00L277.92 346.10Z" fill="#1c9a46"/>
<path d="M287.77 344.93L290.67 347.83L287.77 350.73L284.87 347.83Z" fill="#1c9a46"/>
<path d="M294.73 345.80L297.63 348.70L294.73 351.60L291.83 348.70Z" fill="#1c9a46"/>
<path d="M301.68 346.67L304.58 349.57L301.68 352.47L298.78 349.57Z" fill="#1c9a46"/>
<path d="M308.64 347.53L311.54 350.43L308.64 353.33L305.74 350.43Z" fill="#1c9a46"/>
<path d="M315.60 348.40L318.50 351.30L315.60 354.20L312.70 351.30Z" fill="#1c9a46"/>
<path d="M322.55 348.75L325.45 351.65L322.55 354.55L319.65 351.65Z" fill="#1c9a46"/>
<path d="M329.51 349.27L332.41 352.17L329.51 355.07L326.61 352.17Z" fill="#1c9a46"/>
<path d="M336.46 349.27L339.36 352.17L336.46 355.07L333.56 352.17Z" fill="#1c9a46"/>
<path d="M343.42 349.79L346.32 352.69L343.42 355.59L340.52 352.69Z" fill="#1c9a46"/>
<path d="M350.38 350.48L353.28 353.38L350.38 356.28L347.48 353.38Z" fill="#1c9a46"/>
<path d="M357.33 351.00L360.23 353.90L357.33 356.80L354.43 353.90Z" fill="#1c9a46"/>
<path d="M364.29 351.52L367.19 354.42L364.29 357.32L361.39 354.42Z" fill="#1c9a46"/>
<path d="M371.24 351.52L374.14 354.42L371.24 357.32L368.34 354.42Z" fill="#1c9a46"/>
<path d="M378.20 349.27L381.10 352.17L378.20 355.07L375.30 352.17Z" fill="#1c9a46"/>
<path d="M385.16 350.48L388.06 353.38L385.16 356.28L382.26 353.38Z" fill="#1c9a46"/>
<path d="M392.11 351.00L395.01 353.90L392.11 356.80L389.21 353.90Z" fill="#1c9a46"/>
<path d="M30.40 354.42L37.36 354.42L44.31 354.07L51.27 354.07L58.22 353.73L65.18 353.38L72.14 353.03L79.09 352.69L86.05 351.82L93.00 350.09L99.96 351.13L106.92 345.75L113.87 341.59L120.83 334.31L127.78 329.29L134.74 320.97L141.70 322.01L148.65 319.75L155.61 315.07L162.56 324.43L169.52 318.19L176.48 305.71L183.43 309.35L190.39 294.79L197.34 289.59L204.30 297.39L211.26 284.39L218.21 274.86L225.17 281.79L232.12 293.41L246.04 341.42L252.99 327.38L259.95 335.70L266.90 330.50L273.86 337.95L280.82 338.30L287.77 346.10L294.73 341.59L301.68 346.10L308.64 347.83L315.60 346.62L322.55 347.83L329.51 348.70L336.46 349.57L343.42 350.43L350.38 349.91L357.33 348.35L364.29 353.55L371.24 353.55L378.20 353.03L385.16 352.69L392.11 353.03" fill="none" stroke="#3ea6d8" stroke-width="1.0" stroke-linejoin="round"/>
<rect x="28.15" y="352.17" width="4.50" height="4.50" fill="#22a0dc"/>
<rect x="35.11" y="352.17" width="4.50" height="4.50" fill="#22a0dc"/>
<rect x="42.06" y="351.82" width="4.50" height="4.50" fill="#22a0dc"/>
<rect x="49.02" y="351.82" width="4.50" height="4.50" fill="#22a0dc"/>
<rect x="55.97" y="351.48" width="4.50" height="4.50" fill="#22a0dc"/>
<rect x="62.93" y="351.13" width="4.50" height="4.50" fill="#22a0dc"/>
<rect x="69.89" y="350.78" width="4.50" height="4.50" fill="#22a0dc"/>
<rect x="76.84" y="350.44" width="4.50" height="4.50" fill="#22a0dc"/>
<rect x="83.80" y="349.57" width="4.50" height="4.50" fill="#22a0dc"/>
<rect x="90.75" y="347.84" width="4.50" height="4.50" fill="#22a0dc"/>
<rect x="97.71" y="348.88" width="4.50" height="4.50" fill="#22a0dc"/>
<rect x="104.67" y="343.50" width="4.50" height="4.50" fill="#22a0dc"/>
<rect x="111.62" y="339.34" width="4.50" height="4.50" fill="#22a0dc"/>
<rect x="118.58" y="332.06" width="4.50" height="4.50" fill="#22a0dc"/>
<rect x="125.53" y="327.04" width="4.50" height="4.50" fill="#22a0dc"/>
<rect x="132.49" y="318.72" width="4.50" height="4.50" fill="#22a0dc"/>
<rect x="139.45" y="319.76" width="4.50" height="4.50" fill="#22a0dc"/>
<rect x="146.40" y="317.50" width="4.50" height="4.50" fill="#22a0dc"/>
<rect x="153.36" y="312.82" width="4.50" height="4.50" fill="#22a0dc"/>
<rect x="160.31" y="322.18" width="4.50" height="4.50" fill="#22a0dc"/>
<rect x="167.27" y="315.94" width="4.50" height="4.50" fill="#22a0dc"/>
<rect x="174.23" y="303.46" width="4.50" height="4.50" fill="#22a0dc"/>
<rect x="181.18" y="307.10" width="4.50" height="4.50" fill="#22a0dc"/>
<rect x="188.14" y="292.54" width="4.50" height="4.50" fill="#22a0dc"/>
<rect x="195.09" y="287.34" width="4.50" height="4.50" fill="#22a0dc"/>
<rect x="202.05" y="295.14" width="4.50" height="4.50" fill="#22a0dc"/>
<rect x="209.01" y="282.14" width="4.50" height="4.50" fill="#22a0dc"/>
<rect x="215.96" y="272.61" width="4.50" height="4.50" fill="#22a0dc"/>
<rect x="222.92" y="279.54" width="4.50" height="4.50" fill="#22a0dc"/>
<rect x="229.87" y="291.16" width="4.50" height="4.50" fill="#22a0dc"/>
<rect x="243.79" y="339.17" width="4.50" height="4.50" fill="#22a0dc"/>
<rect x="250.74" y="325.13" width="4.50" height="4.50" fill="#22a0dc"/>
<rect x="257.70" y="333.45" width="4.50" height="4.50" fill="#22a0dc"/>
<rect x="264.65" y="328.25" width="4.50" height="4.50" fill="#22a0dc"/>
<rect x="271.61" y="335.70" width="4.50" height="4.50" fill="#22a0dc"/>
<rect x="278.57" y="336.05" width="4.50" height="4.50" fill="#22a0dc"/>
<rect x="285.52" y="343.85" width="4.50" height="4.50" fill="#22a0dc"/>
<rect x="292.48" y="339.34" width="4.50" height="4.50" fill="#22a0dc"/>
<rect x="299.43" y="343.85" width="4.50" height="4.50" fill="#22a0dc"/>
<rect x="306.39" y="345.58" width="4.50" height="4.50" fill="#22a0dc"/>
<rect x="313.35" y="344.37" width="4.50" height="4.50" fill="#22a0dc"/>
<rect x="320.30" y="345.58" width="4.50" height="4.50" fill="#22a0dc"/>
<rect x="327.26" y="346.45" width="4.50" height="4.50" fill="#22a0dc"/>
<rect x="334.21" y="347.32" width="4.50" height="4.50" fill="#22a0dc"/>
<rect x="341.17" y="348.18" width="4.50" height="4.50" fill="#22a0dc"/>
<rect x="348.13" y="347.66" width="4.50" height="4.50" fill="#22a0dc"/>
<rect x="355.08" y="346.10" width="4.50" height="4.50" fill="#22a0dc"/>
<rect x="362.04" y="351.30" width="4.50" height="4.50" fill="#22a0dc"/>
<rect x="368.99" y="351.30" width="4.50" height="4.50" fill="#22a0dc"/>
<rect x="375.95" y="350.78" width="4.50" height="4.50" fill="#22a0dc"/>
<rect x="382.91" y="350.44" width="4.50" height="4.50" fill="#22a0dc"/>
<rect x="389.86" y="350.78" width="4.50" height="4.50" fill="#22a0dc"/>
<path d="M30.40 355.11L37.36 355.11L44.31 355.11L51.27 355.11L58.22 354.77L65.18 354.42L72.14 354.07L79.09 353.38L86.05 351.65L93.00 346.10L99.96 349.57L106.92 345.58L113.87 338.47L120.83 326.17L127.78 313.69L134.74 297.22L141.70 319.75L148.65 305.71L155.61 287.17L162.56 293.06L169.52 290.29L176.48 294.10L183.43 295.31L190.39 302.94L197.34 298.61L204.30 302.94L211.26 294.79L218.21 293.93L225.17 308.31L232.12 308.31L239.08 336.91L246.04 328.59L252.99 341.07L259.95 337.43L266.90 336.57L273.86 342.63L280.82 346.10L287.77 347.83L294.73 349.57L301.68 350.43L308.64 351.30L315.60 351.65L322.55 352.17L329.51 352.69L336.46 353.03L343.42 350.43L350.38 351.30L357.33 353.38L364.29 353.90L371.24 354.42L378.20 353.90L385.16 353.38L392.11 353.90" fill="none" stroke="#33609c" stroke-width="1.0" stroke-linejoin="round"/>
<path d="M30.40 352.21L33.30 357.29L27.50 357.29Z" fill="#1b5ca8"/>
<path d="M37.36 352.21L40.26 357.29L34.46 357.29Z" fill="#1b5ca8"/>
<path d="M44.31 352.21L47.21 357.29L41.41 357.29Z" fill="#1b5ca8"/>
<path d="M51.27 352.21L54.17 357.29L48.37 357.29Z" fill="#1b5ca8"/>
<path d="M58.22 351.87L61.12 356.94L55.32 356.94Z" fill="#1b5ca8"/>
<path d="M65.18 351.52L68.08 356.60L62.28 356.60Z" fill="#1b5ca8"/>
<path d="M72.14 351.17L75.04 356.25L69.24 356.25Z" fill="#1b5ca8"/>
<path d="M79.09 350.48L81.99 355.56L76.19 355.56Z" fill="#1b5ca8"/>
<path d="M86.05 348.75L88.95 353.82L83.15 353.82Z" fill="#1b5ca8"/>
<path d="M93.00 343.20L95.90 348.28L90.10 348.28Z" fill="#1b5ca8"/>
<path d="M99.96 346.67L102.86 351.74L97.06 351.74Z" fill="#1b5ca8"/>
<path d="M106.92 342.68L109.82 347.75L104.02 347.75Z" fill="#1b5ca8"/>
<path d="M113.87 335.57L116.77 340.65L110.97 340.65Z" fill="#1b5ca8"/>
<path d="M120.83 323.27L123.73 328.34L117.93 328.34Z" fill="#1b5ca8"/>
<path d="M127.78 310.79L130.68 315.86L124.88 315.86Z" fill="#1b5ca8"/>
<path d="M134.74 294.32L137.64 299.40L131.84 299.40Z" fill="#1b5ca8"/>
<path d="M141.70 316.85L144.60 321.93L138.80 321.93Z" fill="#1b5ca8"/>
<path d="M148.65 302.81L151.55 307.89L145.75 307.89Z" fill="#1b5ca8"/>
<path d="M155.61 284.27L158.51 289.34L152.71 289.34Z" fill="#1b5ca8"/>
<path d="M162.56 290.16L165.46 295.24L159.66 295.24Z" fill="#1b5ca8"/>
<path d="M169.52 287.39L172.42 292.46L166.62 292.46Z" fill="#1b5ca8"/>
<path d="M176.48 291.20L179.38 296.28L173.58 296.28Z" fill="#1b5ca8"/>
<path d="M183.43 292.41L186.33 297.49L180.53 297.49Z" fill="#1b5ca8"/>
<path d="M190.39 300.04L193.29 305.12L187.49 305.12Z" fill="#1b5ca8"/>
<path d="M197.34 295.71L200.24 300.78L194.44 300.78Z" fill="#1b5ca8"/>
<path d="M204.30 300.04L207.20 305.12L201.40 305.12Z" fill="#1b5ca8"/>
<path d="M211.26 291.89L214.16 296.97L208.36 296.97Z" fill="#1b5ca8"/>
<path d="M218.21 291.03L221.11 296.10L215.31 296.10Z" fill="#1b5ca8"/>
<path d="M225.17 305.41L228.07 310.49L222.27 310.49Z" fill="#1b5ca8"/>
<path d="M232.12 305.41L235.02 310.49L229.22 310.49Z" fill="#1b5ca8"/>
<path d="M239.08 334.01L241.98 339.09L236.18 339.09Z" fill="#1b5ca8"/>
<path d="M246.04 325.69L248.94 330.77L243.14 330.77Z" fill="#1b5ca8"/>
<path d="M252.99 338.17L255.89 343.25L250.09 343.25Z" fill="#1b5ca8"/>
<path d="M259.95 334.53L262.85 339.61L257.05 339.61Z" fill="#1b5ca8"/>
<path d="M266.90 333.67L269.80 338.74L264.00 338.74Z" fill="#1b5ca8"/>
<path d="M273.86 339.73L276.76 344.81L270.96 344.81Z" fill="#1b5ca8"/>
<path d="M280.82 343.20L283.72 348.28L277.92 348.28Z" fill="#1b5ca8"/>
<path d="M287.77 344.93L290.67 350.01L284.87 350.01Z" fill="#1b5ca8"/>
<path d="M294.73 346.67L297.63 351.74L291.83 351.74Z" fill="#1b5ca8"/>
<path d="M301.68 347.53L304.58 352.61L298.78 352.61Z" fill="#1b5ca8"/>
<path d="M308.64 348.40L311.54 353.48L305.74 353.48Z" fill="#1b5ca8"/>
<path d="M315.60 348.75L318.50 353.82L312.70 353.82Z" fill="#1b5ca8"/>
<path d="M322.55 349.27L325.45 354.34L319.65 354.34Z" fill="#1b5ca8"/>
<path d="M329.51 349.79L332.41 354.86L326.61 354.86Z" fill="#1b5ca8"/>
<path d="M336.46 350.13L339.36 355.21L333.56 355.21Z" fill="#1b5ca8"/>
<path d="M343.42 347.53L346.32 352.61L340.52 352.61Z" fill="#1b5ca8"/>
<path d="M350.38 348.40L353.28 353.48L347.48 353.48Z" fill="#1b5ca8"/>
<path d="M357.33 350.48L360.23 355.56L354.43 355.56Z" fill="#1b5ca8"/>
<path d="M364.29 351.00L367.19 356.07L361.39 356.07Z" fill="#1b5ca8"/>
<path d="M371.24 351.52L374.14 356.60L368.34 356.60Z" fill="#1b5ca8"/>
<path d="M378.20 351.00L381.10 356.07L375.30 356.07Z" fill="#1b5ca8"/>
<path d="M385.16 350.48L388.06 355.56L382.26 355.56Z" fill="#1b5ca8"/>
<path d="M392.11 351.00L395.01 356.07L389.21 356.07Z" fill="#1b5ca8"/>
<path d="M30.40 351.65L37.36 354.07L44.31 350.95L51.27 351.30L58.22 351.82L65.18 350.78L72.14 349.05L79.09 344.89L86.05 339.86L93.00 338.47L99.96 339.51L106.92 326.17L113.87 301.38L120.83 278.15L127.78 256.31L134.74 267.58L141.70 241.23L148.65 231.01L155.61 264.63L162.56 280.58L169.52 303.46L176.48 329.11L183.43 331.37L190.39 332.23L197.34 340.03L204.30 341.77L211.26 343.15L218.21 347.83L225.17 345.23L232.12 346.97L246.04 353.38L252.99 353.03L259.95 350.09L266.90 352.34L273.86 350.78L280.82 353.03L287.77 352.34L294.73 350.95L301.68 351.30L308.64 350.43L315.60 349.57L322.55 350.95L329.51 349.22L336.46 350.43L343.42 344.89L350.38 344.89L357.33 346.97L364.29 346.45L371.24 348.70L378.20 347.83L385.16 346.10L392.11 344.89" fill="none" stroke="#c6aaf2" stroke-width="1.0" stroke-linejoin="round"/>
<rect x="28.15" y="349.40" width="4.50" height="4.50" fill="#bf9ff4"/>
<rect x="35.11" y="351.82" width="4.50" height="4.50" fill="#bf9ff4"/>
<rect x="42.06" y="348.70" width="4.50" height="4.50" fill="#bf9ff4"/>
<rect x="49.02" y="349.05" width="4.50" height="4.50" fill="#bf9ff4"/>
<rect x="55.97" y="349.57" width="4.50" height="4.50" fill="#bf9ff4"/>
<rect x="62.93" y="348.53" width="4.50" height="4.50" fill="#bf9ff4"/>
<rect x="69.89" y="346.80" width="4.50" height="4.50" fill="#bf9ff4"/>
<rect x="76.84" y="342.64" width="4.50" height="4.50" fill="#bf9ff4"/>
<rect x="83.80" y="337.61" width="4.50" height="4.50" fill="#bf9ff4"/>
<rect x="90.75" y="336.22" width="4.50" height="4.50" fill="#bf9ff4"/>
<rect x="97.71" y="337.26" width="4.50" height="4.50" fill="#bf9ff4"/>
<rect x="104.67" y="323.92" width="4.50" height="4.50" fill="#bf9ff4"/>
<rect x="111.62" y="299.13" width="4.50" height="4.50" fill="#bf9ff4"/>
<rect x="118.58" y="275.90" width="4.50" height="4.50" fill="#bf9ff4"/>
<rect x="125.53" y="254.06" width="4.50" height="4.50" fill="#bf9ff4"/>
<rect x="132.49" y="265.33" width="4.50" height="4.50" fill="#bf9ff4"/>
<rect x="139.45" y="238.98" width="4.50" height="4.50" fill="#bf9ff4"/>
<rect x="146.40" y="228.76" width="4.50" height="4.50" fill="#bf9ff4"/>
<rect x="153.36" y="262.38" width="4.50" height="4.50" fill="#bf9ff4"/>
<rect x="160.31" y="278.33" width="4.50" height="4.50" fill="#bf9ff4"/>
<rect x="167.27" y="301.21" width="4.50" height="4.50" fill="#bf9ff4"/>
<rect x="174.23" y="326.86" width="4.50" height="4.50" fill="#bf9ff4"/>
<rect x="181.18" y="329.12" width="4.50" height="4.50" fill="#bf9ff4"/>
<rect x="188.14" y="329.98" width="4.50" height="4.50" fill="#bf9ff4"/>
<rect x="195.09" y="337.78" width="4.50" height="4.50" fill="#bf9ff4"/>
<rect x="202.05" y="339.52" width="4.50" height="4.50" fill="#bf9ff4"/>
<rect x="209.01" y="340.90" width="4.50" height="4.50" fill="#bf9ff4"/>
<rect x="215.96" y="345.58" width="4.50" height="4.50" fill="#bf9ff4"/>
<rect x="222.92" y="342.98" width="4.50" height="4.50" fill="#bf9ff4"/>
<rect x="229.87" y="344.72" width="4.50" height="4.50" fill="#bf9ff4"/>
<rect x="243.79" y="351.13" width="4.50" height="4.50" fill="#bf9ff4"/>
<rect x="250.74" y="350.78" width="4.50" height="4.50" fill="#bf9ff4"/>
<rect x="257.70" y="347.84" width="4.50" height="4.50" fill="#bf9ff4"/>
<rect x="264.65" y="350.09" width="4.50" height="4.50" fill="#bf9ff4"/>
<rect x="271.61" y="348.53" width="4.50" height="4.50" fill="#bf9ff4"/>
<rect x="278.57" y="350.78" width="4.50" height="4.50" fill="#bf9ff4"/>
<rect x="285.52" y="350.09" width="4.50" height="4.50" fill="#bf9ff4"/>
<rect x="292.48" y="348.70" width="4.50" height="4.50" fill="#bf9ff4"/>
<rect x="299.43" y="349.05" width="4.50" height="4.50" fill="#bf9ff4"/>
<rect x="306.39" y="348.18" width="4.50" height="4.50" fill="#bf9ff4"/>
<rect x="313.35" y="347.32" width="4.50" height="4.50" fill="#bf9ff4"/>
<rect x="320.30" y="348.70" width="4.50" height="4.50" fill="#bf9ff4"/>
<rect x="327.26" y="346.97" width="4.50" height="4.50" fill="#bf9ff4"/>
<rect x="334.21" y="348.18" width="4.50" height="4.50" fill="#bf9ff4"/>
<rect x="341.17" y="342.64" width="4.50" height="4.50" fill="#bf9ff4"/>
<rect x="348.13" y="342.64" width="4.50" height="4.50" fill="#bf9ff4"/>
<rect x="355.08" y="344.72" width="4.50" height="4.50" fill="#bf9ff4"/>
<rect x="362.04" y="344.20" width="4.50" height="4.50" fill="#bf9ff4"/>
<rect x="368.99" y="346.45" width="4.50" height="4.50" fill="#bf9ff4"/>
<rect x="375.95" y="345.58" width="4.50" height="4.50" fill="#bf9ff4"/>
<rect x="382.91" y="343.85" width="4.50" height="4.50" fill="#bf9ff4"/>
<rect x="389.86" y="342.64" width="4.50" height="4.50" fill="#bf9ff4"/>
<path d="M30.40 346.45L37.36 346.45L44.31 346.45L51.27 343.15L58.22 336.57L65.18 325.82L72.14 317.67L79.09 285.78L86.05 254.93L93.00 272.09L99.96 277.29L106.92 252.67L113.87 213.67L120.83 219.74L127.78 242.45L134.74 279.54L141.70 290.11L148.65 307.45L155.61 322.01L162.56 332.58L169.52 333.10L176.48 336.05L183.43 341.77L190.39 342.11L197.34 344.37L204.30 343.33L211.26 338.30L218.21 340.55L225.17 338.30L232.12 340.55L246.04 346.45L252.99 346.79L259.95 344.19L266.90 341.07L273.86 341.07L280.82 344.54L287.77 346.45L294.73 346.79L301.68 343.15L308.64 346.62L315.60 338.99L322.55 342.81L329.51 344.89L336.46 346.79L343.42 340.38L350.38 340.38L357.33 343.50L364.29 349.05L371.24 350.26L378.20 343.85" fill="none" stroke="#dc2a42" stroke-width="1.0" stroke-linejoin="round"/>
<circle cx="30.40" cy="346.45" r="2.60" fill="#e8001c"/>
<circle cx="37.36" cy="346.45" r="2.60" fill="#e8001c"/>
<circle cx="44.31" cy="346.45" r="2.60" fill="#e8001c"/>
<circle cx="51.27" cy="343.15" r="2.60" fill="#e8001c"/>
<circle cx="58.22" cy="336.57" r="2.60" fill="#e8001c"/>
<circle cx="65.18" cy="325.82" r="2.60" fill="#e8001c"/>
<circle cx="72.14" cy="317.67" r="2.60" fill="#e8001c"/>
<circle cx="79.09" cy="285.78" r="2.60" fill="#e8001c"/>
<circle cx="86.05" cy="254.93" r="2.60" fill="#e8001c"/>
<circle cx="93.00" cy="272.09" r="2.60" fill="#e8001c"/>
<circle cx="99.96" cy="277.29" r="2.60" fill="#e8001c"/>
<circle cx="106.92" cy="252.67" r="2.60" fill="#e8001c"/>
<circle cx="113.87" cy="213.67" r="2.60" fill="#e8001c"/>
<circle cx="120.83" cy="219.74" r="2.60" fill="#e8001c"/>
<circle cx="127.78" cy="242.45" r="2.60" fill="#e8001c"/>
<circle cx="134.74" cy="279.54" r="2.60" fill="#e8001c"/>
<circle cx="141.70" cy="290.11" r="2.60" fill="#e8001c"/>
<circle cx="148.65" cy="307.45" r="2.60" fill="#e8001c"/>
<circle cx="155.61" cy="322.01" r="2.60" fill="#e8001c"/>
<circle cx="162.56" cy="332.58" r="2.60" fill="#e8001c"/>
<circle cx="169.52" cy="333.10" r="2.60" fill="#e8001c"/>
<circle cx="176.48" cy="336.05" r="2.60" fill="#e8001c"/>
<circle cx="183.43" cy="341.77" r="2.60" fill="#e8001c"/>
<circle cx="190.39" cy="342.11" r="2.60" fill="#e8001c"/>
<circle cx="197.34" cy="344.37" r="2.60" fill="#e8001c"/>
<circle cx="204.30" cy="343.33" r="2.60" fill="#e8001c"/>
<circle cx="211.26" cy="338.30" r="2.60" fill="#e8001c"/>
<circle cx="218.21" cy="340.55" r="2.60" fill="#e8001c"/>
<circle cx="225.17" cy="338.30" r="2.60" fill="#e8001c"/>
<circle cx="232.12" cy="340.55" r="2.60" fill="#e8001c"/>
<circle cx="246.04" cy="346.45" r="2.60" fill="#e8001c"/>
<circle cx="252.99" cy="346.79" r="2.60" fill="#e8001c"/>
<circle cx="259.95" cy="344.19" r="2.60" fill="#e8001c"/>
<circle cx="266.90" cy="341.07" r="2.60" fill="#e8001c"/>
<circle cx="273.86" cy="341.07" r="2.60" fill="#e8001c"/>
<circle cx="280.82" cy="344.54" r="2.60" fill="#e8001c"/>
<circle cx="287.77" cy="346.45" r="2.60" fill="#e8001c"/>
<circle cx="294.73" cy="346.79" r="2.60" fill="#e8001c"/>
<circle cx="301.68" cy="343.15" r="2.60" fill="#e8001c"/>
<circle cx="308.64" cy="346.62" r="2.60" fill="#e8001c"/>
<circle cx="315.60" cy="338.99" r="2.60" fill="#e8001c"/>
<circle cx="322.55" cy="342.81" r="2.60" fill="#e8001c"/>
<circle cx="329.51" cy="344.89" r="2.60" fill="#e8001c"/>
<circle cx="336.46" cy="346.79" r="2.60" fill="#e8001c"/>
<circle cx="343.42" cy="340.38" r="2.60" fill="#e8001c"/>
<circle cx="350.38" cy="340.38" r="2.60" fill="#e8001c"/>
<circle cx="357.33" cy="343.50" r="2.60" fill="#e8001c"/>
<circle cx="364.29" cy="349.05" r="2.60" fill="#e8001c"/>
<circle cx="371.24" cy="350.26" r="2.60" fill="#e8001c"/>
<circle cx="378.20" cy="343.85" r="2.60" fill="#e8001c"/>
<line x1="33.88" x2="33.88" y1="356.50" y2="358.00" stroke="#aaa" stroke-width="0.6"/>
<line x1="40.83" x2="40.83" y1="356.50" y2="358.00" stroke="#aaa" stroke-width="0.6"/>
<line x1="47.79" x2="47.79" y1="356.50" y2="358.00" stroke="#aaa" stroke-width="0.6"/>
<line x1="54.75" x2="54.75" y1="356.50" y2="358.00" stroke="#aaa" stroke-width="0.6"/>
<line x1="61.70" x2="61.70" y1="356.50" y2="358.00" stroke="#aaa" stroke-width="0.6"/>
<line x1="68.66" x2="68.66" y1="356.50" y2="358.00" stroke="#aaa" stroke-width="0.6"/>
<line x1="75.61" x2="75.61" y1="356.50" y2="358.00" stroke="#aaa" stroke-width="0.6"/>
<line x1="82.57" x2="82.57" y1="356.50" y2="358.00" stroke="#aaa" stroke-width="0.6"/>
<line x1="89.53" x2="89.53" y1="356.50" y2="358.00" stroke="#aaa" stroke-width="0.6"/>
<line x1="96.48" x2="96.48" y1="356.50" y2="358.00" stroke="#aaa" stroke-width="0.6"/>
<line x1="103.44" x2="103.44" y1="356.50" y2="358.00" stroke="#aaa" stroke-width="0.6"/>
<line x1="110.39" x2="110.39" y1="356.50" y2="358.00" stroke="#aaa" stroke-width="0.6"/>
<line x1="117.35" x2="117.35" y1="356.50" y2="358.00" stroke="#aaa" stroke-width="0.6"/>
<line x1="124.31" x2="124.31" y1="356.50" y2="358.00" stroke="#aaa" stroke-width="0.6"/>
<line x1="131.26" x2="131.26" y1="356.50" y2="358.00" stroke="#aaa" stroke-width="0.6"/>
<line x1="138.22" x2="138.22" y1="356.50" y2="358.00" stroke="#aaa" stroke-width="0.6"/>
<line x1="145.17" x2="145.17" y1="356.50" y2="358.00" stroke="#aaa" stroke-width="0.6"/>
<line x1="152.13" x2="152.13" y1="356.50" y2="358.00" stroke="#aaa" stroke-width="0.6"/>
<line x1="159.09" x2="159.09" y1="356.50" y2="358.00" stroke="#aaa" stroke-width="0.6"/>
<line x1="166.04" x2="166.04" y1="356.50" y2="358.00" stroke="#aaa" stroke-width="0.6"/>
<line x1="173.00" x2="173.00" y1="356.50" y2="358.00" stroke="#aaa" stroke-width="0.6"/>
<line x1="179.95" x2="179.95" y1="356.50" y2="358.00" stroke="#aaa" stroke-width="0.6"/>
<line x1="186.91" x2="186.91" y1="356.50" y2="358.00" stroke="#aaa" stroke-width="0.6"/>
<line x1="193.87" x2="193.87" y1="356.50" y2="358.00" stroke="#aaa" stroke-width="0.6"/>
<line x1="200.82" x2="200.82" y1="356.50" y2="358.00" stroke="#aaa" stroke-width="0.6"/>
<line x1="207.78" x2="207.78" y1="356.50" y2="358.00" stroke="#aaa" stroke-width="0.6"/>
<line x1="214.73" x2="214.73" y1="356.50" y2="358.00" stroke="#aaa" stroke-width="0.6"/>
<line x1="221.69" x2="221.69" y1="356.50" y2="358.00" stroke="#aaa" stroke-width="0.6"/>
<line x1="228.65" x2="228.65" y1="356.50" y2="358.00" stroke="#aaa" stroke-width="0.6"/>
<line x1="235.60" x2="235.60" y1="356.50" y2="358.00" stroke="#aaa" stroke-width="0.6"/>
<line x1="242.56" x2="242.56" y1="356.50" y2="358.00" stroke="#aaa" stroke-width="0.6"/>
<line x1="249.51" x2="249.51" y1="356.50" y2="358.00" stroke="#aaa" stroke-width="0.6"/>
<line x1="256.47" x2="256.47" y1="356.50" y2="358.00" stroke="#aaa" stroke-width="0.6"/>
<line x1="263.43" x2="263.43" y1="356.50" y2="358.00" stroke="#aaa" stroke-width="0.6"/>
<line x1="270.38" x2="270.38" y1="356.50" y2="358.00" stroke="#aaa" stroke-width="0.6"/>
<line x1="277.34" x2="277.34" y1="356.50" y2="358.00" stroke="#aaa" stroke-width="0.6"/>
<line x1="284.29" x2="284.29" y1="356.50" y2="358.00" stroke="#aaa" stroke-width="0.6"/>
<line x1="291.25" x2="291.25" y1="356.50" y2="358.00" stroke="#aaa" stroke-width="0.6"/>
<line x1="298.21" x2="298.21" y1="356.50" y2="358.00" stroke="#aaa" stroke-width="0.6"/>
<line x1="305.16" x2="305.16" y1="356.50" y2="358.00" stroke="#aaa" stroke-width="0.6"/>
<line x1="312.12" x2="312.12" y1="356.50" y2="358.00" stroke="#aaa" stroke-width="0.6"/>
<line x1="319.07" x2="319.07" y1="356.50" y2="358.00" stroke="#aaa" stroke-width="0.6"/>
<line x1="326.03" x2="326.03" y1="356.50" y2="358.00" stroke="#aaa" stroke-width="0.6"/>
<line x1="332.99" x2="332.99" y1="356.50" y2="358.00" stroke="#aaa" stroke-width="0.6"/>
<line x1="339.94" x2="339.94" y1="356.50" y2="358.00" stroke="#aaa" stroke-width="0.6"/>
<line x1="346.90" x2="346.90" y1="356.50" y2="358.00" stroke="#aaa" stroke-width="0.6"/>
<line x1="353.85" x2="353.85" y1="356.50" y2="358.00" stroke="#aaa" stroke-width="0.6"/>
<line x1="360.81" x2="360.81" y1="356.50" y2="358.00" stroke="#aaa" stroke-width="0.6"/>
<line x1="367.77" x2="367.77" y1="356.50" y2="358.00" stroke="#aaa" stroke-width="0.6"/>
<line x1="374.72" x2="374.72" y1="356.50" y2="358.00" stroke="#aaa" stroke-width="0.6"/>
<line x1="381.68" x2="381.68" y1="356.50" y2="358.00" stroke="#aaa" stroke-width="0.6"/>
<line x1="388.63" x2="388.63" y1="356.50" y2="358.00" stroke="#aaa" stroke-width="0.6"/>
<rect x="26.95" y="200.5" width="368.55" height="156.0" fill="none" stroke="#444" stroke-width="1.25"/>
<rect x="310.6" y="207.4" width="77.59999999999997" height="50.29999999999998" fill="#fff" stroke="#c8c8c8" stroke-width="0.8"/>
<line x1="315.6" x2="326.8" y1="212.90" y2="212.90" stroke="#2e9a52" stroke-width="0.75"/>
<path d="M321.20 210.93L323.17 212.90L321.20 214.87L319.23 212.90Z" fill="#1c9a46"/>
<text x="330.0" y="214.75" class="lg" textLength="22.4" lengthAdjust="spacingAndGlyphs">Jun, 2013</text>
<path d="M354.20 213.40C355.70 211.30 357.50 214.50 359.00 212.40" fill="none" stroke="#1a1a1a" stroke-width="0.65"/>
<text x="359.00" y="214.75" class="lg" textLength="25.0" lengthAdjust="spacingAndGlyphs">May, 2014</text>
<line x1="315.6" x2="326.8" y1="222.85" y2="222.85" stroke="#3ea6d8" stroke-width="0.75"/>
<rect x="319.67" y="221.32" width="3.06" height="3.06" fill="#22a0dc"/>
<text x="330.0" y="224.70" class="lg" textLength="22.4" lengthAdjust="spacingAndGlyphs">Jun, 2014</text>
<path d="M354.20 223.35C355.70 221.25 357.50 224.45 359.00 222.35" fill="none" stroke="#1a1a1a" stroke-width="0.65"/>
<text x="359.00" y="224.70" class="lg" textLength="25.0" lengthAdjust="spacingAndGlyphs">May, 2015</text>
<line x1="315.6" x2="326.8" y1="232.80" y2="232.80" stroke="#33609c" stroke-width="0.75"/>
<path d="M321.20 230.83L323.17 234.28L319.23 234.28Z" fill="#1b5ca8"/>
<text x="330.0" y="234.65" class="lg" textLength="22.4" lengthAdjust="spacingAndGlyphs">Jun, 2015</text>
<path d="M354.20 233.30C355.70 231.20 357.50 234.40 359.00 232.30" fill="none" stroke="#1a1a1a" stroke-width="0.65"/>
<text x="359.00" y="234.65" class="lg" textLength="25.0" lengthAdjust="spacingAndGlyphs">May, 2016</text>
<line x1="315.6" x2="326.8" y1="242.75" y2="242.75" stroke="#c6aaf2" stroke-width="0.75"/>
<rect x="319.67" y="241.22" width="3.06" height="3.06" fill="#bf9ff4"/>
<text x="330.0" y="244.60" class="lg" textLength="22.4" lengthAdjust="spacingAndGlyphs">Jun, 2016</text>
<path d="M354.20 243.25C355.70 241.15 357.50 244.35 359.00 242.25" fill="none" stroke="#1a1a1a" stroke-width="0.65"/>
<text x="359.00" y="244.60" class="lg" textLength="25.0" lengthAdjust="spacingAndGlyphs">May, 2017</text>
<line x1="315.6" x2="326.8" y1="252.70" y2="252.70" stroke="#dc2a42" stroke-width="0.75"/>
<circle cx="321.20" cy="252.70" r="1.77" fill="#e8001c"/>
<text x="330.0" y="254.55" class="lg" textLength="22.4" lengthAdjust="spacingAndGlyphs">Jun, 2017</text>
<path d="M354.20 253.20C355.70 251.10 357.50 254.30 359.00 252.20" fill="none" stroke="#1a1a1a" stroke-width="0.65"/>
<text x="359.00" y="254.55" class="lg" textLength="25.0" lengthAdjust="spacingAndGlyphs">May, 2018</text>
</svg>
</body></html>
